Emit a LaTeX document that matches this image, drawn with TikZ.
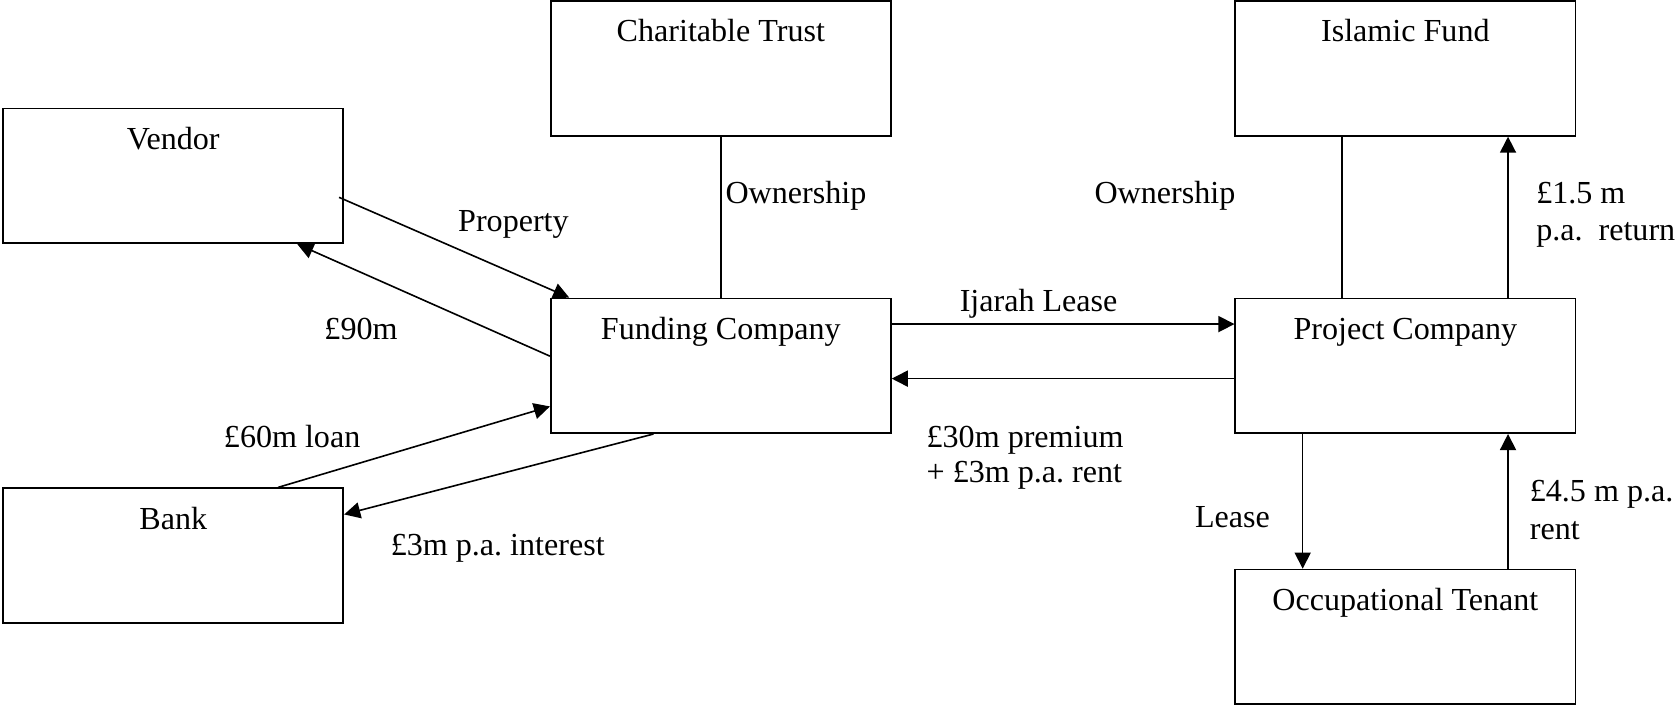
\documentclass[tikz,border=0pt]{standalone}
\usepackage{fontspec}
\setmainfont{Liberation Serif}
\usetikzlibrary{arrows.meta,calc}
\frenchspacing
\begin{document}
\begin{tikzpicture}[x=0.5pt,y=-0.5pt,
  box/.style={draw,line width=0.8pt,rectangle,minimum width=159pt,minimum height=63pt,inner sep=0pt},
  btext/.style={anchor=base,inner sep=0pt,font=\fontsize{15}{17.3}\selectfont},
  lbl/.style={anchor=base west,inner sep=0pt,font=\fontsize{15}{17.3}\selectfont,align=left},
  conn/.style={line width=0.75pt},
  arr/.style={line width=0.75pt,-{Triangle[length=7.5pt,width=7.5pt]}}]
\useasboundingbox (0,0) rectangle (1568,660);
% boxes
\node[box] (ct) at (674,64) {};
\node[box] (if) at (1314,64) {};
\node[box] (v) at (162,164.5) {};
\node[box] (fc) at (674,342) {};
\node[box] (pc) at (1314,342) {};
\node[box] (b) at (162,519.5) {};
\node[box] (ot) at (1314,595.5) {};
% box titles
\node[btext] (tct) at ($(ct.north)+(0,39)$) {Charitable Trust};
\node[btext] (tif) at ($(if.north)+(0,39)$) {Islamic Fund};
\node[btext] (tv) at ($(v.north)+(0,39)$) {Vendor};
\node[btext] (tfc) at ($(fc.north)+(0,39)$) {Funding Company};
\node[btext] (tpc) at ($(pc.north)+(0,39)$) {Project Company};
\node[btext] (tb) at ($(b.north)+(0,39)$) {Bank};
\node[btext] (tot) at ($(ot.north)+(0,39)$) {Occupational Tenant};
% connectors
\draw[conn] (ct.south) -- (fc.north);
\draw[conn] ($(if.south)+(-59,0)$) -- ($(pc.north)+(-59,0)$);
\draw[arr] ($(pc.north)+(96,0)$) -- ($(if.south)+(96,0)$);
\draw[arr] ($(fc.east)+(0,-39)$) -- ($(pc.west)+(0,-39)$);
\draw[arr] ($(pc.west)+(0,12)$) -- ($(fc.east)+(0,12)$);
\draw[arr] ($(pc.south)+(-96,0)$) -- ($(ot.north)+(-96,0)$);
\draw[arr] ($(ot.north)+(96,0)$) -- ($(pc.south)+(96,0)$);
\draw[arr] ($(v.center)+(155,20)$) -- ($(fc.north west)+(18,0)$);
\draw[arr] ($(fc.west)+(0,-9)$) -- ($(v.south)+(116,0)$);
\draw[arr] ($(b.north)+(98,0)$) -- ($(fc.west)+(0,38)$);
\draw[arr] ($(fc.south)+(-63,0)$) -- ($(b.east)+(0,-38.5)$);
% labels
\node[lbl] (own1) at (678,190) {Ownership};
\node[lbl] (own2) at (1023,190) {Ownership};
\node[lbl] (prop) at (428,216) {Property};
\node[lbl] (l90) at (303,317) {£90m};
\node[lbl] (ijl) at (897,291) {Ijarah Lease};
\node[lbl] (l30a) at (866,418) {£30m premium};
\node[lbl] (l30b) at (866,451) {+ £3m p.a. rent};
\node[lbl] (l60) at (209,418) {£60m loan};
\node[lbl] (l3) at (365,519) {£3m p.a. interest};
\node[lbl] (lease) at (1117,493) {Lease};
\node[lbl] (l45a) at (1430,469) {£4.5 m p.a.};
\node[lbl] (l45b) at (1430,504) {rent};
\node[lbl] (l15a) at (1436,190) {£1.5 m};
\node[lbl] (l15b) at (1436,224.5) {p.a.\ \ return};
\end{tikzpicture}
\end{document}
